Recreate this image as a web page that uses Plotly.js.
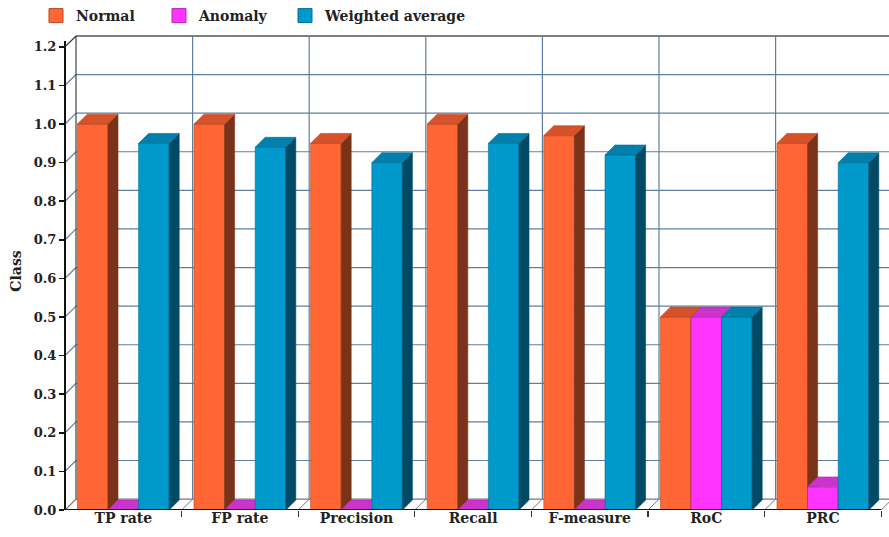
<!DOCTYPE html>
<html>
<head>
<meta charset="utf-8">
<script src="https://cdn.plot.ly/plotly-3.0.1.min.js"></script>
<style>html,body{margin:0;padding:0;background:#fff;}#chart{width:889px;height:537px;}</style>
</head>
<body>
<div id="chart"></div>
<script>
// ---- data ----
const categories = ['TP rate', 'FP rate', 'Precision', 'Recall', 'F-measure', 'RoC', 'PRC'];
const normal = [1.0, 1.0, 0.95, 1.0, 0.97, 0.5, 0.95];
const anomaly = [0.0, 0.0, 0.0, 0.0, 0.0, 0.5, 0.06];
const weighted = [0.95, 0.94, 0.90, 0.95, 0.92, 0.5, 0.90];
const seriesNames = ['Normal', 'Anomaly', 'Weighted average'];
const yTicks = [0, 0.1, 0.2, 0.3, 0.4, 0.5, 0.6, 0.7, 0.8, 0.9, 1.0, 1.1, 1.2];

// ---- styling / geometry ----
const W = 889, H = 537;
const mL = 65, mR = 0, mT = 27, mB = 27;
const pxPerCat = 116.6;
const pxPerUnit = 390;
const plotW = W - mL - mR, plotH = H - mT - mB;
const xRange = [-0.5, -0.5 + plotW / pxPerCat];
const yRange = [0, plotH / pxPerUnit];
const dxW = 11 / pxPerCat, dyW = 11 / pxPerUnit;   // wall depth
const dxB = 10 / pxPerCat, dyB = 10 / pxPerUnit;   // bar depth
const barW = 30.6 / pxPerCat;
const colors = [
  {front: '#ff6633', side: '#7a3218', top: '#d6522a', edge: '#b04a25'},
  {front: '#ff33ff', side: '#8a1f8a', top: '#cc33cc', edge: '#b02ab0'},
  {front: '#0099cc', side: '#004a66', top: '#0080aa', edge: '#006f94'}
];
const gridColor = '#5f7f9f';
const font = 'DejaVu Serif';
const seriesVals = [normal, anomaly, weighted];

const traces = [];
function poly(xs, ys, color, lineColor) {
  traces.push({
    type: 'scatter', mode: 'lines', fill: 'toself',
    x: xs.concat([xs[0]]), y: ys.concat([ys[0]]),
    fillcolor: color, line: {color: lineColor || color, width: 0.6},
    hoverinfo: 'skip', showlegend: false
  });
}
categories.forEach((c, i) => {
  for (let s = 0; s < 3; s++) {
    const v = seriesVals[s][i];
    const x0 = i - 1.5 * barW + s * barW, x1 = x0 + barW;
    const col = colors[s];
    poly([x0, x1, x1, x0], [0, 0, v, v], col.front, col.edge);
    poly([x1, x1 + dxB, x1 + dxB, x1], [0, dyB, v + dyB, v], col.side, col.side);
    poly([x0, x1, x1 + dxB, x0 + dxB], [v, v, v + dyB, v + dyB], col.top, col.edge);
  }
});
// legend entries (one legend box per series for exact placement)
const legendIds = ['legend', 'legend2', 'legend3'];
seriesNames.forEach((n, s) => {
  traces.push({
    type: 'scatter', mode: 'markers', x: [-10], y: [-10], name: n, legend: legendIds[s],
    marker: {symbol: 'square', size: 14, color: colors[s].front, line: {color: colors[s].edge, width: 1}},
    hoverinfo: 'skip', showlegend: true
  });
});
// dummy trace for boundary tick axis
traces.push({type: 'scatter', mode: 'markers', x: [-10], y: [-10], xaxis: 'x2', showlegend: false, hoverinfo: 'skip', marker: {opacity: 0}});

// ---- wall / floor shapes ----
const shapes = [];
const xRight = xRange[1] + 1;
yTicks.forEach((t, k) => {
  const top = k === yTicks.length - 1;
  const bottom = k === 0;
  shapes.push({type: 'line', layer: 'below', xref: 'x', yref: 'y', x0: -0.5 + dxW, x1: xRight, y0: t + dyW, y1: t + dyW,
    line: {color: top ? '#555' : (bottom ? '#777' : gridColor), width: top ? 1.5 : 1.2}});
  shapes.push({type: 'line', layer: 'below', xref: 'x', yref: 'y', x0: -0.5, x1: -0.5 + dxW, y0: t, y1: t + dyW,
    line: {color: top ? '#333' : gridColor, width: 1.2}});
});
for (let k = 0; k <= categories.length; k++) {
  shapes.push({type: 'line', layer: 'below', xref: 'x', yref: 'y', x0: k - 0.5 + dxW, x1: k - 0.5 + dxW,
    y0: dyW, y1: 1.2 + dyW, line: {color: k === 0 ? '#444' : gridColor, width: 1.2}});
  shapes.push({type: 'line', layer: 'below', xref: 'x', yref: 'y', x0: k - 0.5, x1: k - 0.5 + dxW,
    y0: 0, y1: dyW, line: {color: '#777', width: 1}});
}
// front axis lines
shapes.push({type: 'line', layer: 'above', xref: 'paper', yref: 'y', x0: 0, x1: 0, y0: 0, y1: 1.215, line: {color: '#111', width: 2}});
shapes.push({type: 'line', layer: 'above', xref: 'x', yref: 'y', x0: -0.5, x1: 6.5, y0: 0, y1: 0, line: {color: '#111', width: 2}});

const tickFont = {family: font, size: 13, color: '#222', weight: 'bold'};
const legFont = {family: font, size: 14, color: '#222', weight: 'bold'};
function leg(xpx) {
  return {orientation: 'h', xref: 'container', yref: 'container', x: xpx / W, y: 1, xanchor: 'left', yanchor: 'top',
    font: legFont, bgcolor: 'rgba(0,0,0,0)'};
}
const layout = {
  width: W, height: H,
  margin: {l: mL, r: mR, t: mT, b: mB, pad: 0},
  paper_bgcolor: '#fff', plot_bgcolor: '#fff',
  showlegend: true,
  legend: leg(36),
  legend2: leg(159),
  legend3: leg(285),
  xaxis: {range: xRange, tickvals: categories.map((c, i) => i), ticktext: categories, showgrid: false, zeroline: false,
    showline: false, ticks: '', ticklabelstandoff: -2, tickfont: {family: font, size: 14, color: '#222', weight: 'bold'}, fixedrange: true},
  xaxis2: {overlaying: 'x', matches: 'x', range: xRange, side: 'bottom', tickvals: [0.5, 1.5, 2.5, 3.5, 4.5, 5.5, 6.5],
    showticklabels: false, ticks: 'outside', ticklen: 6, tickwidth: 1.2, tickcolor: '#333', showgrid: false, zeroline: false, showline: false},
  yaxis: {range: yRange, tickvals: yTicks, ticktext: yTicks.map(t => t.toFixed(1)), showgrid: false, zeroline: false,
    showline: false, ticks: 'outside', ticklen: 5, tickwidth: 1.5, tickcolor: '#111', tickfont: tickFont,
    title: {text: 'Class', font: {family: font, size: 14, color: '#222', weight: 'bold'}, standoff: 8}, fixedrange: true},
  shapes: shapes
};
Plotly.newPlot('chart', traces, layout, {displayModeBar: false, staticPlot: true});
</script>
</body>
</html>
